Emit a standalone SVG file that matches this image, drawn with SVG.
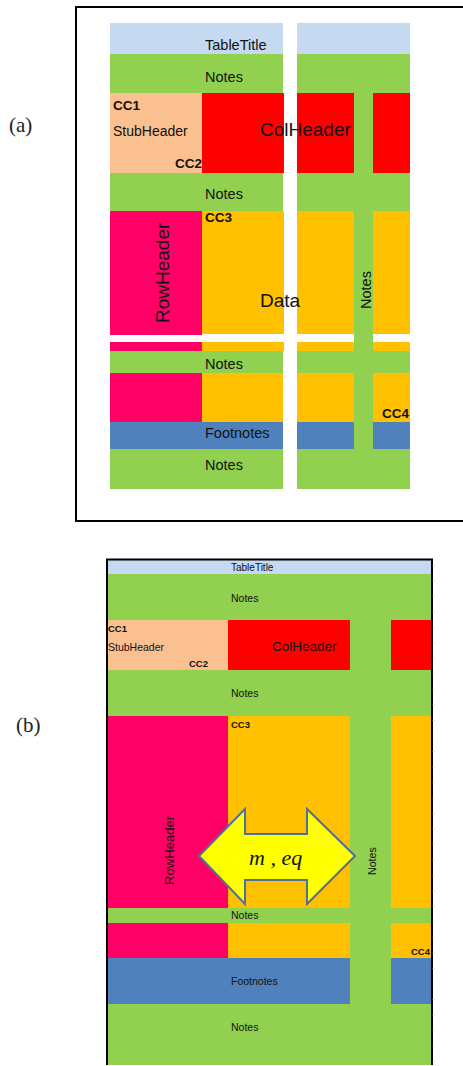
<svg xmlns="http://www.w3.org/2000/svg" width="463" height="1066" viewBox="0 0 463 1066">
<style>
.t{font-family:"Liberation Sans",Arial,sans-serif;fill:#111}
.b{font-weight:bold}
.lbl{font-family:"Liberation Serif","Times New Roman",serif;font-size:21px;fill:#222}
.title{fill:#c5d9f1}.note{fill:#92d050}.stub{fill:#fac090}.col{fill:#ff0000}.row{fill:#ff0066}.data{fill:#ffc000}.foot{fill:#4f81bd}
</style>
<rect width="463" height="1066" fill="#fff"/>
<text class="lbl" x="9" y="132">(a)</text>
<text class="lbl" x="16" y="732">(b)</text>
<g id="diagram-a">
<rect x="76" y="7" width="400" height="514" fill="none" stroke="#000" stroke-width="2"/>
<g id="a-shapes">
<rect class="title" x="110" y="23" width="173" height="31"/>
<rect class="title" x="297" y="23" width="113" height="31"/>
<rect class="note" x="110" y="54" width="173" height="39"/>
<rect class="note" x="297" y="54" width="113" height="39"/>
<rect class="stub" x="110" y="93" width="92" height="80"/>
<rect class="col" x="202" y="93" width="82" height="80"/>
<rect class="col" x="297" y="93" width="57" height="80"/>
<rect class="col" x="373" y="93" width="37" height="80"/>
<rect class="note" x="110" y="173" width="173" height="38"/>
<rect class="note" x="297" y="173" width="113" height="38"/>
<rect class="row" x="110" y="211" width="92" height="124"/>
<rect class="data" x="202" y="211" width="82" height="123"/>
<rect class="data" x="297" y="211" width="57" height="123"/>
<rect class="data" x="373" y="211" width="37" height="123"/>
<rect class="row" x="110" y="342" width="92" height="9"/>
<rect class="data" x="202" y="342" width="82" height="9"/>
<rect class="data" x="297" y="342" width="57" height="9"/>
<rect class="data" x="373" y="342" width="37" height="9"/>
<rect class="note" x="110" y="351" width="173" height="22"/>
<rect class="note" x="297" y="351" width="113" height="22"/>
<rect class="row" x="110" y="373" width="92" height="49"/>
<rect class="data" x="202" y="373" width="81" height="49"/>
<rect class="data" x="297" y="373" width="57" height="49"/>
<rect class="data" x="373" y="373" width="37" height="49"/>
<rect class="foot" x="110" y="422" width="173" height="27"/>
<rect class="foot" x="297" y="422" width="57" height="27"/>
<rect class="foot" x="373" y="422" width="37" height="27"/>
<rect class="note" x="354" y="93" width="19" height="356"/>
<rect class="note" x="110" y="449" width="173" height="40"/>
<rect class="note" x="297" y="449" width="113" height="40"/>
</g>
<g id="a-texts">
<text class="t" x="205" y="50" font-size="14.5">TableTitle</text>
<text class="t" x="205" y="82" font-size="14.5">Notes</text>
<text class="t b" x="113" y="110" font-size="13.5">CC1</text>
<text class="t" x="113" y="136" font-size="14">StubHeader</text>
<text class="t b" x="202" y="168" font-size="13.5" text-anchor="end">CC2</text>
<text class="t" x="260" y="136" font-size="19">ColHeader</text>
<text class="t" x="205" y="199" font-size="14.5">Notes</text>
<text class="t b" x="205" y="222" font-size="13.5">CC3</text>
<text class="t" font-size="19" transform="translate(169,323) rotate(-90)">RowHeader</text>
<text class="t" x="260" y="307" font-size="19">Data</text>
<text class="t" font-size="14.5" transform="translate(371,309) rotate(-90)">Notes</text>
<text class="t" x="205" y="369" font-size="14.5">Notes</text>
<text class="t b" x="382" y="418" font-size="13.5">CC4</text>
<text class="t" x="205" y="438" font-size="14.5">Footnotes</text>
<text class="t" x="205" y="470" font-size="14.5">Notes</text>
</g>
</g>
<g id="diagram-b">
<g id="b-shapes">
<rect class="title" x="107" y="560" width="324" height="14"/>
<rect class="note" x="107" y="574" width="324" height="46"/>
<rect class="stub" x="107" y="620" width="121" height="50"/>
<rect class="col" x="228" y="620" width="122" height="50"/>
<rect class="col" x="391" y="620" width="40" height="50"/>
<rect class="note" x="107" y="670" width="324" height="46"/>
<rect class="row" x="107" y="716" width="121" height="192"/>
<rect class="data" x="228" y="716" width="122" height="192"/>
<rect class="data" x="391" y="716" width="40" height="192"/>
<rect class="note" x="107" y="908" width="324" height="15"/>
<rect class="row" x="107" y="923" width="121" height="35"/>
<rect class="data" x="228" y="923" width="122" height="35"/>
<rect class="data" x="391" y="923" width="40" height="35"/>
<rect class="foot" x="107" y="958" width="243" height="46"/>
<rect class="foot" x="391" y="958" width="40" height="46"/>
<rect class="note" x="350" y="620" width="41" height="384"/>
<rect class="note" x="107" y="1004" width="324" height="61"/>
<path d="M107,1065 V559.5 H432 V1065" fill="none" stroke="#000" stroke-width="2"/>
<line x1="433" y1="565" x2="433" y2="1065" stroke="#999" stroke-width="1" stroke-dasharray="1,14.5"/>
</g>
<g id="b-texts">
<text class="t" x="231" y="571" font-size="10">TableTitle</text>
<text class="t" x="231" y="602" font-size="10.5">Notes</text>
<text class="t b" x="108" y="632" font-size="9.5">CC1</text>
<text class="t" x="108" y="651" font-size="10.5">StubHeader</text>
<text class="t b" x="208" y="667" font-size="9.5" text-anchor="end">CC2</text>
<text class="t" x="272" y="651" font-size="13.5">ColHeader</text>
<text class="t" x="231" y="697" font-size="10.5">Notes</text>
<text class="t b" x="231" y="728" font-size="9.5">CC3</text>
<text class="t" font-size="13.1" transform="translate(174,885) rotate(-90)">RowHeader</text>
<text class="t" font-size="10.6" transform="translate(376,875) rotate(-90)">Notes</text>
<text class="t" x="231" y="919" font-size="10.5">Notes</text>
<text class="t b" x="430" y="955" font-size="9.5" text-anchor="end">CC4</text>
<text class="t" x="231" y="985" font-size="10.5">Footnotes</text>
<text class="t" x="231" y="1031" font-size="10.5">Notes</text>
</g>
<g id="arrow">
<path d="M199,856 L245,809 V834 H307 V809 L355,856 L307,904 V880 H245 V904 Z" fill="#ffff00" stroke="#4f6f9f" stroke-width="2" stroke-linejoin="miter"/>
<text x="249" y="865" font-family="'Liberation Serif','Times New Roman',serif" font-style="italic" font-size="22" fill="#111">m , eq</text>
</g>
</g>
</svg>
